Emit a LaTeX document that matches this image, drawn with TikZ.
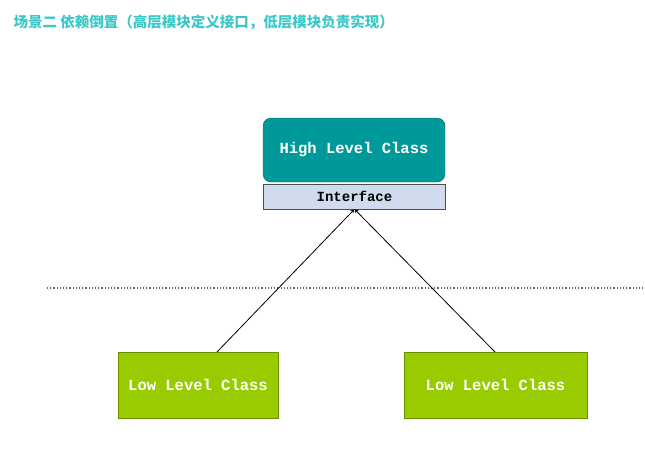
\documentclass[tikz,border=0pt]{standalone}
\usepackage{fontspec}
\setmonofont{Liberation Mono}
\newfontfamily\cjk{Noto Sans CJK SC}
\usepackage{tikz}
\usetikzlibrary{positioning}
\definecolor{titlecol}{HTML}{3CC8C8}
\definecolor{highcol}{HTML}{009999}
\definecolor{ifcol}{HTML}{D0DCEE}
\definecolor{lowcol}{HTML}{99CC00}
\tikzset{
  cls/.style={draw=#1!70!black, fill=#1, text=white, font=\ttfamily\bfseries\fontsize{15.5}{18}\selectfont, inner sep=0pt},
  dep/.style={->, >=stealth, black, line width=0.8pt}
}
\begin{document}
\begin{tikzpicture}[x=1pt,y=-1pt]
\useasboundingbox (0,0) rectangle (645,469);
\node [anchor=west, text=titlecol, font=\cjk\bfseries\fontsize{14.5}{17}\selectfont] (title) at (10,22) {场景二 依赖倒置（高层模块定义接口，低层模块负责实现）};
% high level side
\node [cls=highcol, rounded corners=8pt, minimum width=182pt, minimum height=64pt] (high) at (354,150) {High Level Class};
\node [draw=black!70, fill=ifcol, text=black, font=\ttfamily\bfseries\fontsize{14}{16}\selectfont, minimum width=182pt, minimum height=25pt, inner sep=0pt] (iface) at (354.5,196.5) {Interface};
% boundary
\draw [black!60, dotted, line width=1.2pt] (47,288) -- (645,288);
% low level side
\node [cls=lowcol, minimum width=160pt, minimum height=66pt] (lowA) at (198,385) {Low Level Class};
\node [cls=lowcol, minimum width=183pt, minimum height=66pt] (lowB) at (495.5,385) {Low Level Class};
\draw [dep] (217,352) -- (iface.south);
\draw [dep] (495,352) -- (iface.south);
\end{tikzpicture}
\end{document}
